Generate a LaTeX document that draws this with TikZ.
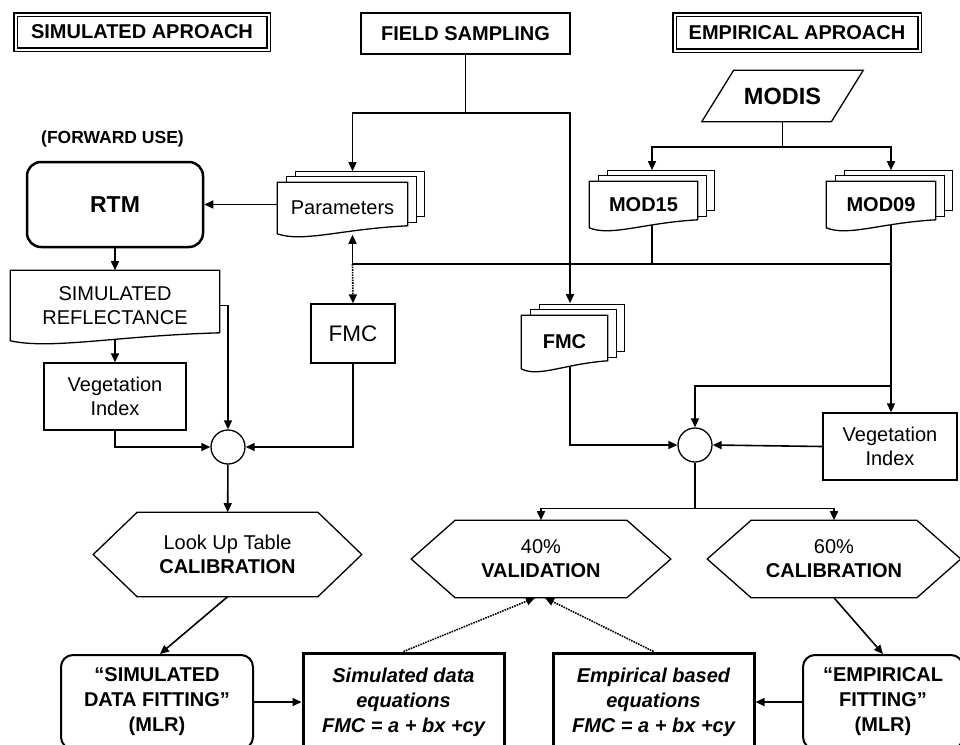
\documentclass[tikz,border=0pt]{standalone}
\usepackage{fontspec}
\setmainfont{Liberation Sans}
\usetikzlibrary{arrows.meta,calc}

\pgfdeclarelayer{back}
\pgfsetlayers{back,main}

\newcommand{\flowfont}{\fontsize{20}{23.5}\selectfont}

\newcommand{\docline}[1]{(#1.north west) -- (#1.north east) -- ([yshift=8pt]#1.south east)
  .. controls ($(#1.south east)!0.5!(#1.south west)+(0,5pt)$) and ($(#1.south east)!0.8!(#1.south west)+(0,-9pt)$) .. (#1.south west) -- cycle}

\newcommand{\stackdoc}[1]{%
  \draw[fill=white,line width=1.3pt] ([shift={(18pt,11pt)}]#1.north west) rectangle ([shift={(17pt,17pt)}]#1.south east);
  \draw[fill=white,line width=1.3pt] ([shift={(9pt,5.5pt)}]#1.north west) rectangle ([shift={(8.5pt,11pt)}]#1.south east);
  \draw[fill=white,line width=1.3pt] \docline{#1};}

\newcommand{\hexline}[1]{(#1.west) -- ([xshift=44pt]#1.north west) -- ([xshift=-44pt]#1.north east) -- (#1.east)
  -- ([xshift=-44pt]#1.south east) -- ([xshift=44pt]#1.south west) -- cycle}

\tikzset{
  titlebox/.style={draw,double,double distance=2pt,line width=1.6pt,inner sep=0,font=\flowfont\bfseries},
  plainbox/.style={draw,line width=1.3pt,inner sep=0,align=center},
  roundbox/.style={draw,rounded corners=12pt,line width=2pt,inner sep=0,align=center,font=\fontsize{20}{25}\selectfont\bfseries},
  eqbox/.style={draw,line width=3pt,inner sep=0,align=center,font=\fontsize{20}{25}\selectfont\bfseries\itshape},
  docnode/.style={inner sep=0,align=center},
  junction/.style={circle,draw,line width=1.3pt,minimum size=34pt,inner sep=0},
  hexnode/.style={inner sep=0,align=center,font=\fontsize{20}{24}\selectfont}
}

\begin{document}
\begin{tikzpicture}[x=1pt,y=-1pt,font=\flowfont,line width=1.6pt,>={Triangle[length=9pt,width=8pt]}]

      \useasboundingbox (0,0) rectangle (960,744);
      \clip (0,0) rectangle (960,744);

      \begin{scope}[every node/.style={titlebox}]
        \node[minimum width=253pt,minimum height=35pt] (1) at (142,32) {SIMULATED APROACH};
        \node[minimum width=245pt,minimum height=36pt] (3) at (797,32.5) {EMPIRICAL APROACH};
      \end{scope}
      \node[plainbox,minimum width=209pt,minimum height=41pt,font=\flowfont\bfseries] (2) at (465.5,33.5) {FIELD SAMPLING};

      \node[docnode,minimum width=128pt,minimum height=50pt,font=\fontsize{23.5}{26}\selectfont\bfseries] (4) at (782.5,96) {MODIS};
      \node[docnode,minimum width=107pt,minimum height=45pt,font=\flowfont\bfseries] (5) at (643.5,204.5) {MOD15};
      \node[docnode,minimum width=108pt,minimum height=45pt,font=\flowfont\bfseries] (6) at (881,204.5) {MOD09};
      \node[docnode,minimum width=129pt,minimum height=50pt] (7) at (342.5,208) {Parameters};

      \node[draw,rounded corners=14pt,line width=2.5pt,minimum width=176pt,minimum height=85pt,font=\fontsize{23}{26}\selectfont\bfseries] (8) at (115,204.5) {RTM};
      \node[font=\fontsize{17.5}{20}\selectfont\bfseries] (9) at (112.5,139) {(FORWARD USE)};
      \node[docnode,minimum width=208pt,minimum height=69pt] (10) at (115,305.5) {SIMULATED\\REFLECTANCE};
      \node[plainbox,minimum width=142pt,minimum height=67pt] (11) at (115,396.5) {Vegetation\\Index};
      \node[junction] (12) at (228,447) {};
      \node[plainbox,minimum width=84pt,minimum height=59pt,font=\fontsize{22.5}{26}\selectfont] (13) at (353,333.5) {FMC};

      \node[docnode,minimum width=85pt,minimum height=52pt,font=\flowfont\bfseries] (17) at (564.5,342) {FMC};
      \node[junction] (18) at (695,445) {};
      \node[plainbox,minimum width=134pt,minimum height=67pt] (19) at (890,446.5) {Vegetation\\Index};

      \begin{scope}[every node/.style={hexnode}]
        \node[minimum width=267pt,minimum height=83pt] (14) at (227.5,554.5) {Look Up Table\\\textbf{CALIBRATION}};
        \node[minimum width=258pt,minimum height=76pt] (15) at (541,559) {40\%\\\textbf{VALIDATION}};
        \node[minimum width=252pt,minimum height=76pt] (16) at (834,559) {60\%\\\textbf{CALIBRATION}};
      \end{scope}

      \node[roundbox,minimum width=192pt,minimum height=94pt] (20) at (157,702) {“SIMULATED\\DATA FITTING”\\(MLR)};
      \node[eqbox,minimum width=201pt,minimum height=98pt] (21) at (403.5,702) {Simulated data\\equations\\FMC = a + bx +cy};
      \node[eqbox,minimum width=201pt,minimum height=98pt] (22) at (653.5,702) {Empirical based\\equations\\FMC = a + bx +cy};
      \node[roundbox,minimum width=160pt,minimum height=94pt] (23) at (883,702) {“EMPIRICAL\\FITTING”\\(MLR)};

      \coordinate (fs) at (465.5,113);
      \coordinate (bus) at (352.5,264);
      \coordinate (j) at (891,386);

      \begin{pgfonlayer}{back}
      \begin{scope}[line width=1.6pt]
        \draw (4.south) -- ++(0,25) coordinate (m);
        \draw[->] (m) -| ([xshift=8.5pt,yshift=11pt]5.north);
        \draw[->] (m) -| ([xshift=10pt,yshift=11pt]6.north);

        \draw (2.south) -- (fs);
        \draw[->] (fs) -| ([xshift=10pt,yshift=11pt]7.north);
        \draw[->] (fs) -| ([xshift=5.5pt,yshift=12pt]17.north);

        \draw[->] (bus) -- ([xshift=10pt,yshift=-1pt]7.south);
        \draw[->,densely dotted] (bus) -- (13.north);
        \draw (bus) -| ([xshift=10pt]6.center);
        \draw ([xshift=8.5pt]5.center) -- ([xshift=8.5pt]5.center |- bus);
        \draw[->] ([xshift=10pt]6.center) -- ([xshift=10pt]6.center |- 19.north);
        \draw[->] (j) -| (18.north);

        \draw[->] (7.west |- 8.east) -- (8.east);
        \draw[->] (8) -- (10);
        \draw[->] (10.east) -| (12.north);
        \draw[->] (10.center) -- (11.north);
        \draw[->] (11.south) |- (12.west);
        \draw[->] (13.south) |- (12.east);
        \draw[->] (12) -- (14);

        \draw[->] ([xshift=5.5pt]17.center) |- (18.west);
        \draw[->] (19.west) -- (18.east);
        \draw (18.south) -- ++(0,46) coordinate (split);
        \draw[->] (split) -| (15.north);
        \draw[->] (split) -| (16.north);

        \draw[->] (14.south) -- ([xshift=3pt]20.north);
        \draw[->] (20) -- (21);
        \draw[->] (23) -- (22);
        \draw[->] (16.south) -- (23.north);
        \draw[->,densely dotted] (21.north) -- ([xshift=-6pt]15.south);
        \draw[->,densely dotted] (22.north) -- ([xshift=4pt]15.south);

        \stackdoc{7}
        \stackdoc{5}
        \stackdoc{6}
        \stackdoc{17}
        \draw[fill=white,line width=1.3pt] \docline{10};
      \end{scope}
      \end{pgfonlayer}

      \draw[line width=1.3pt] ([xshift=-16pt]4.south west) -- ([xshift=-16pt]4.south east) -- ([xshift=16pt]4.north east) -- ([xshift=16pt]4.north west) -- cycle;
      \foreach \n in {14,15,16}
        \draw[line width=1.3pt] \hexline{\n};

    \end{tikzpicture}
\end{document}
